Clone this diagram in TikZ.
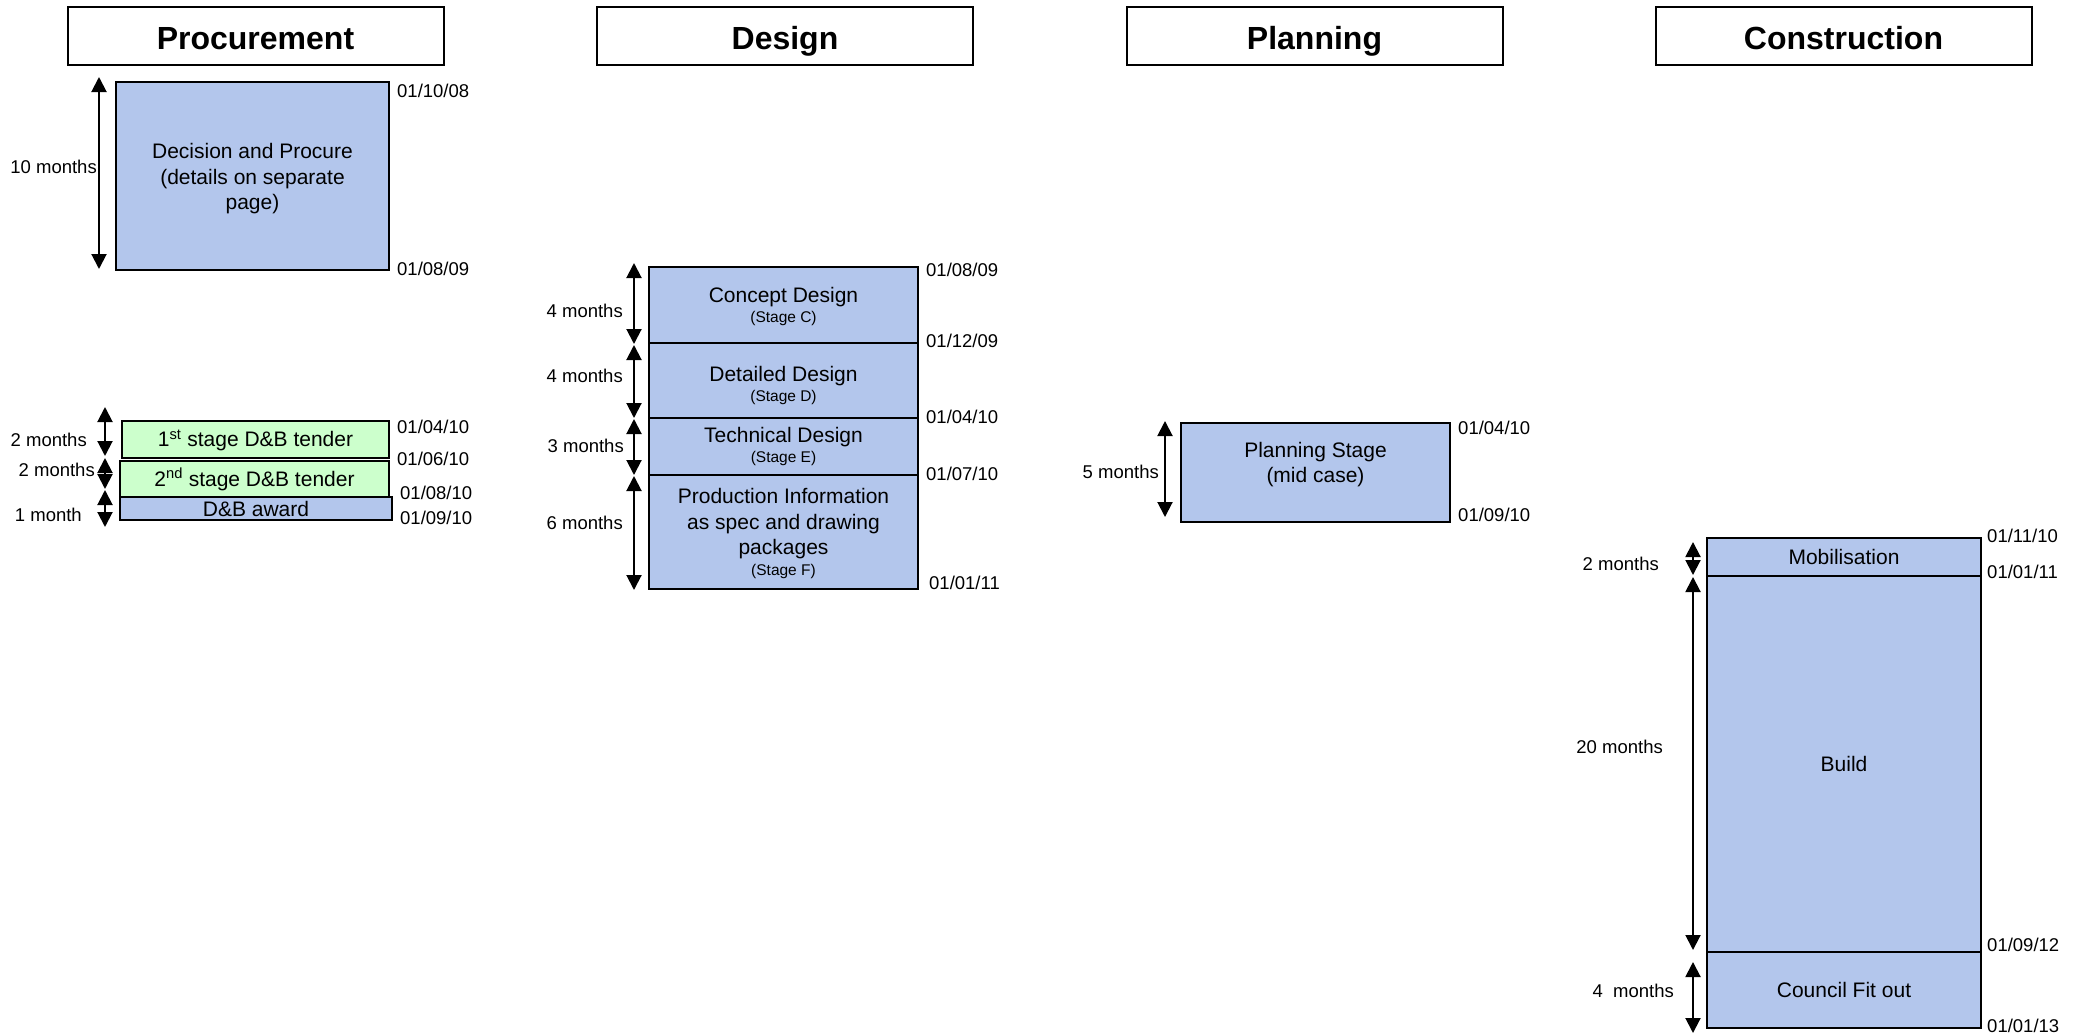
\documentclass[tikz,border=0pt]{standalone}
\usepackage{fontspec}
\setmainfont{Liberation Sans}
\usetikzlibrary{arrows.meta}
\definecolor{phaseblue}{RGB}{179,198,236}
\definecolor{phasegreen}{RGB}{204,255,204}
\newcommand{\stagefont}{\fontsize{15.5}{18}\selectfont}
\newcommand{\ppttop}{\rule{0pt}{0.905em}}
\newcommand{\pptbot}{\rule[-0.212em]{0pt}{0.212em}}
\begin{document}
\begin{tikzpicture}[x=1pt,y=-1pt,
  head/.style={draw, line width=2pt, fill=white, inner sep=0pt, outer sep=0pt,
    minimum width=376pt, minimum height=58pt, text height=26.6pt, text depth=0pt,
    font=\bfseries\fontsize{32}{36}\selectfont},
  phase/.style={draw, line width=2pt, fill=phaseblue, inner sep=0pt, outer sep=0pt,
    align=center, font=\fontsize{21}{25.5}\selectfont},
  tender/.style={phase, fill=phasegreen},
  date/.style={anchor=west, inner sep=0pt, font=\fontsize{18.5}{22}\selectfont},
  dur/.style={anchor=east, inner sep=0pt, font=\fontsize{18.5}{22}\selectfont},
  dim/.style={line width=2pt, {Triangle[width=15pt,length=15pt]}-{Triangle[width=15pt,length=15pt]}},
]
\useasboundingbox (0,0) rectangle (2081,1034);

% headers
\node[head] (hproc) at (255.5,36) {Procurement};
\node[head] (hdes) at (785,36) {Design};
\node[head] (hplan) at (1314.5,36) {Planning};
\node[head] (hcon) at (1843.5,36) {Construction};

% ---------------- Procurement
\node[phase, minimum width=273pt, minimum height=188pt] (decide) at (252.5,176)
  {\rule{0pt}{21pt}Decision and Procure\\(details on separate\\page)\pptbot};
\node[tender, minimum width=267pt, minimum height=37pt] (tender1) at (255.5,439.5)
  {\ppttop 1\textsuperscript{st} stage D\&B tender\pptbot};
\node[tender, minimum width=269pt, minimum height=36pt] (tender2) at (254.5,479)
  {\ppttop 2\textsuperscript{nd} stage D\&B tender\pptbot};
\node[phase, minimum width=272pt, minimum height=23pt] (award) at (256,508.5)
  {D\&B award};

\coordinate (pA1) at (99,77);   \coordinate (pA2) at (99,269);
\coordinate (pB1) at (105,407); \coordinate (pB2) at (105,456);
\coordinate (pC1) at (105,458); \coordinate (pC2) at (105,489);
\coordinate (pD1) at (105,490); \coordinate (pD2) at (105,527);
\draw[dim] (pA1) -- (pA2);
\draw[dim] (pB1) -- (pB2);
\draw[dim] (pC1) -- (pC2);
\draw[dim] (pD1) -- (pD2);

\node[dur] (lp1) at (97,167) {10 months};
\node[dur] (lp2) at (87,440) {2 months};
\node[dur] (lp3) at (95,470) {2 months};
\node[dur] (lp4) at (82,515) {1 month};

\node[date] (dp1) at (397,91) {01/10/08};
\node[date] (dp2) at (397,269) {01/08/09};
\node[date] (dp3) at (397,427) {01/04/10};
\node[date] (dp4) at (397,459) {01/06/10};
\node[date] (dp5) at (400,493) {01/08/10};
\node[date] (dp6) at (400,518) {01/09/10};

% ---------------- Design
\node[phase, minimum width=269pt, minimum height=76pt] (concept) at (783.5,305)
  {\ppttop Concept Design\\[-5.5pt]{\stagefont (Stage C)\pptbot}};
\node[phase, minimum width=269pt, minimum height=75pt] (detailed) at (783.5,380.5)
  {\rule{0pt}{25pt}Detailed Design\\[-5.5pt]{\stagefont (Stage D)\pptbot}};
\node[phase, minimum width=269pt, minimum height=57pt] (technical) at (783.5,446.5)
  {Technical Design\\[-5.5pt]{\stagefont (Stage E)\pptbot}};
\node[phase, minimum width=269pt, minimum height=114pt] (production) at (783.5,532)
  {\ppttop Production Information\\as spec and drawing\\packages\\[-4.5pt]{\stagefont (Stage F)\pptbot}};

\coordinate (dA1) at (634,263); \coordinate (dA2) at (634,344);
\coordinate (dB1) at (634,345); \coordinate (dB2) at (634,418);
\coordinate (dC1) at (634,419); \coordinate (dC2) at (634,475);
\coordinate (dD1) at (634,476); \coordinate (dD2) at (634,590);
\draw[dim] (dA1) -- (dA2);
\draw[dim] (dB1) -- (dB2);
\draw[dim] (dC1) -- (dC2);
\draw[dim] (dD1) -- (dD2);

\node[dur] (ld1) at (623,311) {4 months};
\node[dur] (ld2) at (623,376) {4 months};
\node[dur] (ld3) at (624,446) {3 months};
\node[dur] (ld4) at (623,523) {6 months};

\node[date] (dd1) at (926,270) {01/08/09};
\node[date] (dd2) at (926,341) {01/12/09};
\node[date] (dd3) at (926,417) {01/04/10};
\node[date] (dd4) at (926,474) {01/07/10};
\node[date] (dd5) at (929,583) {01/01/11};

% ---------------- Planning
\node[phase, minimum width=269pt, minimum height=99pt] (planning) at (1315.5,472.5)
  {Planning Stage\\(mid case)\\[-5pt]\mbox{}};
\coordinate (lA1) at (1165,421); \coordinate (lA2) at (1165,517);
\draw[dim] (lA1) -- (lA2);
\node[dur] (ll1) at (1159,472) {5 months};
\node[date] (dl1) at (1458,428) {01/04/10};
\node[date] (dl2) at (1458,515) {01/09/10};

% ---------------- Construction
\node[phase, minimum width=274pt, minimum height=38pt] (mobil) at (1844,557) {\ppttop Mobilisation\pptbot};
\node[phase, minimum width=274pt, minimum height=376pt] (build) at (1844,764) {\ppttop Build\pptbot};
\node[phase, minimum width=274pt, minimum height=76pt] (council) at (1844,990) {\ppttop Council Fit out\pptbot};

\coordinate (cA1) at (1693,542); \coordinate (cA2) at (1693,575);
\coordinate (cB1) at (1693,577); \coordinate (cB2) at (1693,950);
\coordinate (cC1) at (1693,962); \coordinate (cC2) at (1693,1033);
\draw[dim] (cA1) -- (cA2);
\draw[dim] (cB1) -- (cB2);
\draw[dim] (cC1) -- (cC2);

\node[dur] (lc1) at (1659,564) {2 months};
\node[dur] (lc2) at (1663,747) {20 months};
\node[dur] (lc3) at (1674,991) {4\ \ months};

\node[date] (dc1) at (1987,536) {01/11/10};
\node[date] (dc2) at (1987,572) {01/01/11};
\node[date] (dc3) at (1987,945) {01/09/12};
\node[date] (dc4) at (1987,1026) {01/01/13};
\end{tikzpicture}
\end{document}
